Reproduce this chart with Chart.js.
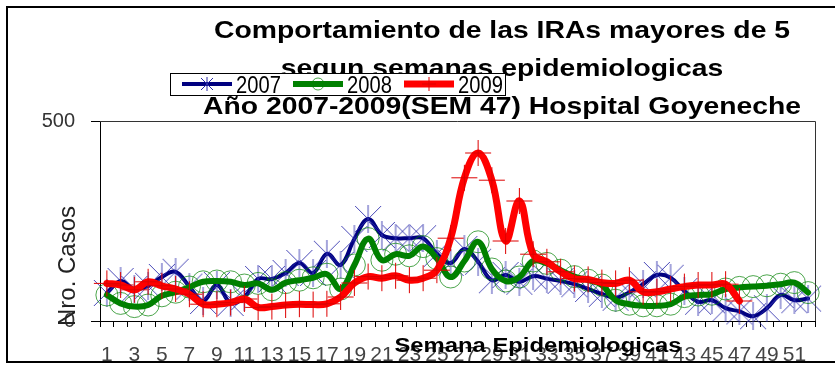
<!DOCTYPE html>
<html lang="es">
<head>
<meta charset="utf-8">
<title>IRAs mayores de 5 - Hospital Goyeneche</title>
<script src="https://cdn.jsdelivr.net/npm/chart.js@4.4.1/dist/chart.umd.min.js"></script>
<style>
  html, body { margin: 0; padding: 0; background: #fff; }
  #wrap { position: relative; width: 835px; height: 365px; }
</style>
</head>
<body>
<div id="wrap"><canvas id="iras"></canvas></div>
<script>
// Semanas epidemiologicas
const semanas = ['1','2','3','4','5','6','7','8','9','10','11','12','13','14','15','16','17','18','19','20',
  '21','22','23','24','25','26','27','28','29','30','31','32','33','34','35','36','37','38','39','40',
  '41','42','43','44','45','46','47','48','49','50','51','52'];

// Nro. de casos por semana
const casos2007 = [70, 100, 80, 88, 110, 123, 86, 50, 90, 45, 60, 105, 105, 120, 145, 120, 168, 140, 205, 255,
  215, 207, 207, 207, 168, 145, 180, 148, 102, 115, 98, 112, 106, 100, 92, 80, 68, 58, 72, 92,
  115, 108, 75, 48, 52, 32, 24, 12, 32, 65, 52, 56];
const casos2008 = [65, 44, 36, 40, 63, 72, 85, 98, 100, 98, 90, 94, 78, 96, 102, 108, 117, 80, 140, 206,
  152, 167, 163, 186, 156, 110, 150, 198, 130, 100, 110, 150, 144, 127, 111, 102, 90, 52, 42, 38,
  38, 42, 61, 65, 67, 80, 84, 86, 88, 92, 96, 71];
// 2009 llega hasta la SEM 47
const casos2009 = [94, 90, 78, 98, 88, 80, 67, 42, 42, 46, 55, 34, 36, 40, 42, 41, 43, 60, 95, 111,
  107, 113, 102, 107, 127, 207, 358, 420, 352, 200, 300, 167, 148, 123, 106, 104, 96, 94, 102, 73,
  73, 80, 86, 90, 90, 92, 50];

const yTicks = [0, 500];

const titulo = [
  'Comportamiento de las IRAs mayores de 5',
  'segun semanas epidemiologicas',
  'Año 2007-2009(SEM 47) Hospital Goyeneche'
];
const tituloEjeX = 'Semana Epidemiologicas';
const tituloEjeY = 'Nro. Casos';

const FUENTE = '"Liberation Sans", Arial, sans-serif';

// marcador asterisco (X con barra vertical)
function estrella(size, color) {
  const c = document.createElement('canvas');
  c.width = size; c.height = size;
  const g = c.getContext('2d');
  g.strokeStyle = color;
  g.lineWidth = 1;
  g.beginPath();
  g.moveTo(1, 1); g.lineTo(size - 1, size - 1);
  g.moveTo(size - 1, 1); g.lineTo(1, size - 1);
  g.moveTo(size / 2, 0); g.lineTo(size / 2, size);
  g.stroke();
  return c;
}
const estrellaGrande = estrella(28, 'rgba(40,40,170,0.85)');
const estrellaChica = estrella(14, '#2a2aa8');

// texto ensanchado/estrechado en horizontal
function texto(ctx, txt, x, y, font, sx, align) {
  ctx.save();
  ctx.font = font;
  ctx.textAlign = align || 'center';
  ctx.textBaseline = 'alphabetic';
  ctx.translate(x, y);
  ctx.scale(sx, 1);
  ctx.fillText(txt, 0, 0);
  ctx.restore();
}

const decoracion = {
  id: 'decoracion',
  afterDraw(chart) {
    const ctx = chart.ctx;
    const a = chart.chartArea;
    ctx.save();

    // borde superior y derecho del area de trazado
    ctx.strokeStyle = '#333';
    ctx.lineWidth = 1;
    ctx.beginPath();
    ctx.moveTo(a.left, a.top + 0.5);
    ctx.lineTo(a.right + 0.5, a.top + 0.5);
    ctx.lineTo(a.right + 0.5, a.bottom);
    ctx.stroke();

    // titulo
    ctx.fillStyle = '#000';
    titulo.forEach((t, i) => texto(ctx, t, 502, 38 + i * 38, 'bold 24px ' + FUENTE, 1.18));

    // leyenda
    ctx.fillStyle = '#fff';
    ctx.fillRect(170, 73, 335, 22);
    ctx.strokeStyle = '#000';
    ctx.lineWidth = 1;
    ctx.strokeRect(170.5, 73.5, 335, 22);
    chart.data.datasets.forEach((ds, i) => {
      const x0 = 182 + i * 111;
      const y0 = 84;
      ctx.strokeStyle = ds.borderColor;
      ctx.lineWidth = ds.borderWidth;
      ctx.beginPath();
      ctx.moveTo(x0, y0); ctx.lineTo(x0 + 50, y0);
      ctx.stroke();
      const mx = x0 + 25;
      ctx.lineWidth = 1;
      ctx.strokeStyle = ds.pointBorderColor || ds.borderColor;
      if (ds.pointStyle === 'circle') {
        ctx.beginPath(); ctx.arc(mx, y0, 6, 0, Math.PI * 2); ctx.stroke();
      } else if (ds.pointStyle === 'cross') {
        ctx.beginPath();
        ctx.moveTo(mx - 7, y0); ctx.lineTo(mx + 7, y0);
        ctx.moveTo(mx, y0 - 7); ctx.lineTo(mx, y0 + 7);
        ctx.stroke();
      } else {
        ctx.drawImage(estrellaChica, mx - 7, y0 - 7);
      }
      ctx.fillStyle = '#000';
      texto(ctx, ds.label, x0 + 54, 93, '24px ' + FUENTE, 0.84, 'left');
    });

    // titulos de los ejes
    ctx.fillStyle = '#000';
    texto(ctx, tituloEjeX, 538, 352, 'bold 20px ' + FUENTE, 1.19);
    ctx.save();
    ctx.translate(68, 266);
    ctx.rotate(-Math.PI / 2);
    ctx.font = '24px ' + FUENTE;
    ctx.fillStyle = '#222';
    ctx.textAlign = 'center';
    ctx.textBaseline = 'middle';
    ctx.fillText(tituloEjeY, 0, 0);
    ctx.restore();

    // marco exterior
    ctx.strokeStyle = '#000';
    ctx.lineWidth = 2;
    ctx.strokeRect(7, 7, 840, 355);
    ctx.restore();
  }
};

Chart.defaults.font.family = FUENTE;
Chart.defaults.color = '#333';

new Chart(document.getElementById('iras'), {
  type: 'line',
  data: {
    labels: semanas,
    datasets: [
      {
        label: '2007',
        data: casos2007,
        borderColor: '#000080',
        borderWidth: 4,
        pointStyle: estrellaGrande,
        pointRadius: 13,
        order: 3
      },
      {
        label: '2008',
        data: casos2008,
        borderColor: '#008000',
        borderWidth: 6,
        pointStyle: 'circle',
        pointRadius: 11,
        pointBorderColor: 'rgba(0,128,0,0.7)',
        pointBackgroundColor: 'rgba(0,0,0,0)',
        pointBorderWidth: 1,
        order: 2
      },
      {
        label: '2009',
        data: casos2009,
        borderColor: '#ff0000',
        borderWidth: 7,
        pointStyle: 'cross',
        pointRadius: 13,
        pointBorderColor: '#dd0000',
        pointBorderWidth: 1,
        order: 1
      }
    ]
  },
  options: {
    responsive: true,
    maintainAspectRatio: false,
    animation: false,
    events: [],
    clip: false,
    elements: {
      line: { tension: 0.4, fill: false, borderJoinStyle: 'round', borderCapStyle: 'round' }
    },
    layout: { padding: { left: 10, right: 20, top: 121, bottom: 0 } },
    plugins: {
      legend: { display: false },
      title: { display: false },
      tooltip: { enabled: false }
    },
    scales: {
      x: {
        offset: true,
        grid: { offset: true, drawOnChartArea: false, tickLength: 6, color: '#000' },
        border: { color: '#000', width: 1 },
        ticks: {
          autoSkip: false,
          maxRotation: 0,
          padding: 16,
          font: { size: 21 },
          color: '#444',
          callback: (v, i) => (i % 2 === 0 ? semanas[i] : '')
        },
        afterFit: s => { s.height = 44; }
      },
      y: {
        min: yTicks[0],
        max: yTicks[1],
        ticks: { stepSize: yTicks[1] - yTicks[0], padding: 16, font: { size: 20 }, color: '#333' },
        grid: { drawOnChartArea: false, tickLength: 9, color: '#000' },
        border: { color: '#000', width: 1 },
        afterFit: s => { s.width = 90; }
      }
    }
  },
  plugins: [decoracion]
});
</script>
</body>
</html>
